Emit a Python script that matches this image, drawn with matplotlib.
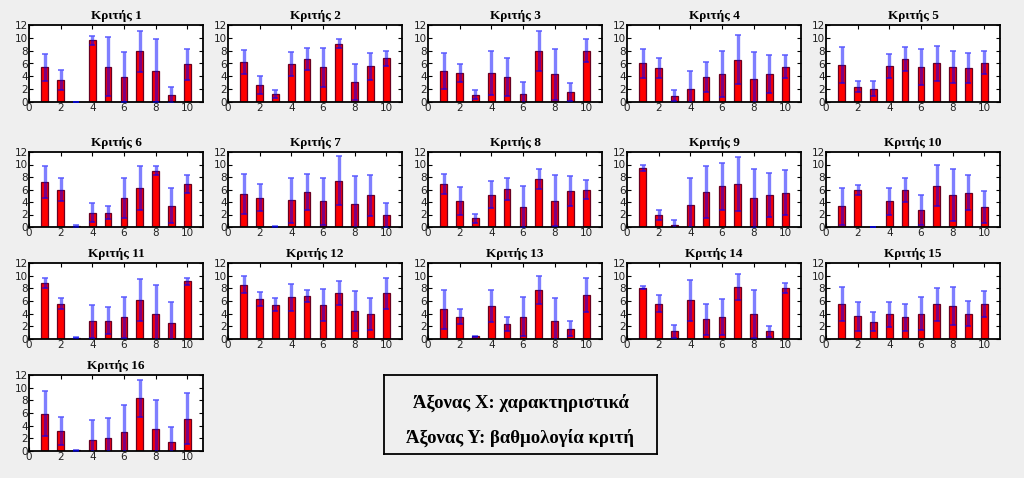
import numpy as np
import matplotlib
matplotlib.use('Agg')
import matplotlib.pyplot as plt

# χαρακτηριστικά 1..10
features = list(range(1, 11))
judges = ['Κριτής %d' % i for i in range(1, 17)]

# μέση βαθμολογία ανά κριτή
means = [
    [5.4, 3.4, 0.0, 9.6, 5.5, 3.9, 7.9, 4.9, 1.1, 5.9],
    [6.2, 2.7, 1.2, 5.9, 6.7, 5.4, 9.1, 3.1, 5.6, 6.8],
    [4.9, 4.5, 1.1, 4.5, 3.9, 1.3, 7.9, 4.3, 1.5, 8.0],
    [6.0, 5.3, 1.0, 2.1, 3.9, 4.4, 6.6, 3.6, 4.4, 5.5],
    [5.8, 2.4, 2.1, 5.6, 6.7, 5.5, 6.0, 5.5, 5.3, 6.1],
    [7.2, 6.0, 0.2, 2.3, 2.3, 4.7, 6.2, 9.0, 3.4, 6.9],
    [5.3, 4.7, 0.05, 4.3, 5.6, 4.1, 7.4, 3.7, 5.1, 1.9],
    [6.9, 4.2, 1.4, 5.2, 6.1, 3.2, 7.7, 4.2, 5.7, 6.0],
    [9.4, 2.0, 0.4, 3.6, 5.6, 6.5, 6.9, 4.6, 5.1, 5.5],
    [3.3, 6.0, 0.0, 4.1, 5.9, 2.8, 6.6, 5.1, 5.5, 3.2],
    [8.8, 5.6, 0.2, 2.8, 2.9, 3.4, 6.1, 3.9, 2.5, 9.1],
    [8.6, 6.3, 5.4, 6.6, 6.8, 5.4, 7.2, 4.4, 3.9, 7.2],
    [4.7, 3.5, 0.4, 5.2, 2.4, 3.5, 7.7, 2.9, 1.6, 7.0],
    [8.1, 5.6, 1.2, 6.1, 3.1, 3.5, 8.2, 4.0, 1.2, 8.0],
    [5.5, 3.6, 2.7, 3.9, 3.4, 4.0, 5.5, 5.2, 4.0, 5.5],
    [5.9, 3.2, 0.1, 1.7, 2.0, 3.0, 8.3, 3.5, 1.5, 5.1],
]

# τυπική απόκλιση
stds = [
    [2.1, 1.6, 0.0, 0.7, 4.6, 3.9, 3.2, 4.9, 1.2, 2.4],
    [1.9, 1.4, 0.6, 1.9, 1.7, 3.0, 0.7, 2.8, 2.1, 1.2],
    [2.8, 1.4, 0.7, 3.4, 3.0, 1.8, 3.1, 4.0, 1.4, 1.8],
    [2.2, 1.5, 0.8, 2.8, 2.4, 3.6, 3.8, 4.2, 3.0, 1.8],
    [2.8, 0.9, 1.2, 1.9, 1.8, 2.8, 2.8, 2.5, 2.3, 1.8],
    [2.5, 1.9, 0.2, 1.5, 1.0, 3.2, 3.5, 0.7, 2.8, 1.5],
    [3.2, 2.2, 0.1, 3.6, 2.9, 3.8, 3.9, 4.5, 3.3, 2.0],
    [1.6, 2.2, 0.7, 2.1, 1.8, 3.3, 1.6, 4.1, 2.4, 1.5],
    [0.5, 0.8, 0.8, 4.3, 4.1, 3.7, 4.3, 4.7, 3.5, 3.6],
    [2.9, 0.8, 0.0, 2.1, 1.9, 2.4, 3.3, 4.2, 2.8, 2.6],
    [0.8, 0.9, 0.1, 2.6, 2.1, 3.3, 3.3, 4.6, 3.4, 0.6],
    [1.3, 1.1, 1.0, 2.1, 1.0, 2.5, 1.9, 3.2, 2.5, 2.4],
    [3.1, 1.2, 0.1, 2.5, 1.1, 3.1, 2.2, 3.5, 1.2, 2.7],
    [0.2, 1.4, 1.0, 3.2, 2.5, 2.8, 2.0, 3.8, 0.9, 0.8],
    [2.7, 2.3, 1.5, 2.0, 2.1, 2.6, 2.6, 3.0, 2.0, 2.1],
    [3.5, 2.2, 0.1, 3.2, 3.2, 4.2, 2.9, 4.6, 2.3, 4.0],
]

W, H = 1024, 478
fig = plt.figure(figsize=(W / 100, H / 100), dpi=100, facecolor='#efefef')

col_left = [29, 228, 428, 627, 826]
ax_w = 174
row_top = [25, 152, 263, 375]
row_bot = [102, 227, 339, 451]

for k in range(16):
    r, c = divmod(k, 5)
    left = col_left[c] / W
    bottom = 1 - row_bot[r] / H
    height = (row_bot[r] - row_top[r]) / H
    ax = fig.add_axes([left, bottom, ax_w / W, height])
    ax.bar(features, means[k], width=0.42, color='red', edgecolor='#6a0020', linewidth=0.9, zorder=2)
    ax.errorbar(features, means[k], yerr=stds[k], fmt='none', ecolor='blue', alpha=0.5,
                elinewidth=2.4, capsize=2.5, capthick=1.4, zorder=3)
    ax.set_xlim(0, 11)
    ax.set_ylim(0, 12)
    ax.set_xticks([0, 2, 4, 6, 8, 10])
    ax.set_yticks([0, 2, 4, 6, 8, 10, 12])
    ax.tick_params(direction='in', top=True, right=True, length=3, width=0.8,
                   labelsize=7.5, pad=1, colors='black', labelcolor='#222222')
    for s in ax.spines.values():
        s.set_linewidth(1.3)
    ax.set_title(judges[k], fontsize=9.5, fontweight='bold', family='Liberation Serif', pad=4)

# πλαίσιο με την επεξήγηση των αξόνων
bx = fig.add_axes([384 / W, 1 - 454 / H, (657 - 384) / W, (454 - 375) / H])
bx.set_xticks([])
bx.set_yticks([])
bx.set_facecolor('#efefef')
for s in bx.spines.values():
    s.set_linewidth(1.3)
bx.text(0.5, 0.65, 'Άξονας Χ: χαρακτηριστικά', ha='center', va='center', fontsize=13.5,
        fontweight='bold', family='Liberation Serif', transform=bx.transAxes)
bx.text(0.5, 0.2, 'Άξονας Υ: βαθμολογία κριτή', ha='center', va='center', fontsize=13.5,
        fontweight='bold', family='Liberation Serif', transform=bx.transAxes)

fig.savefig('out.png', dpi=100, facecolor=fig.get_facecolor())
